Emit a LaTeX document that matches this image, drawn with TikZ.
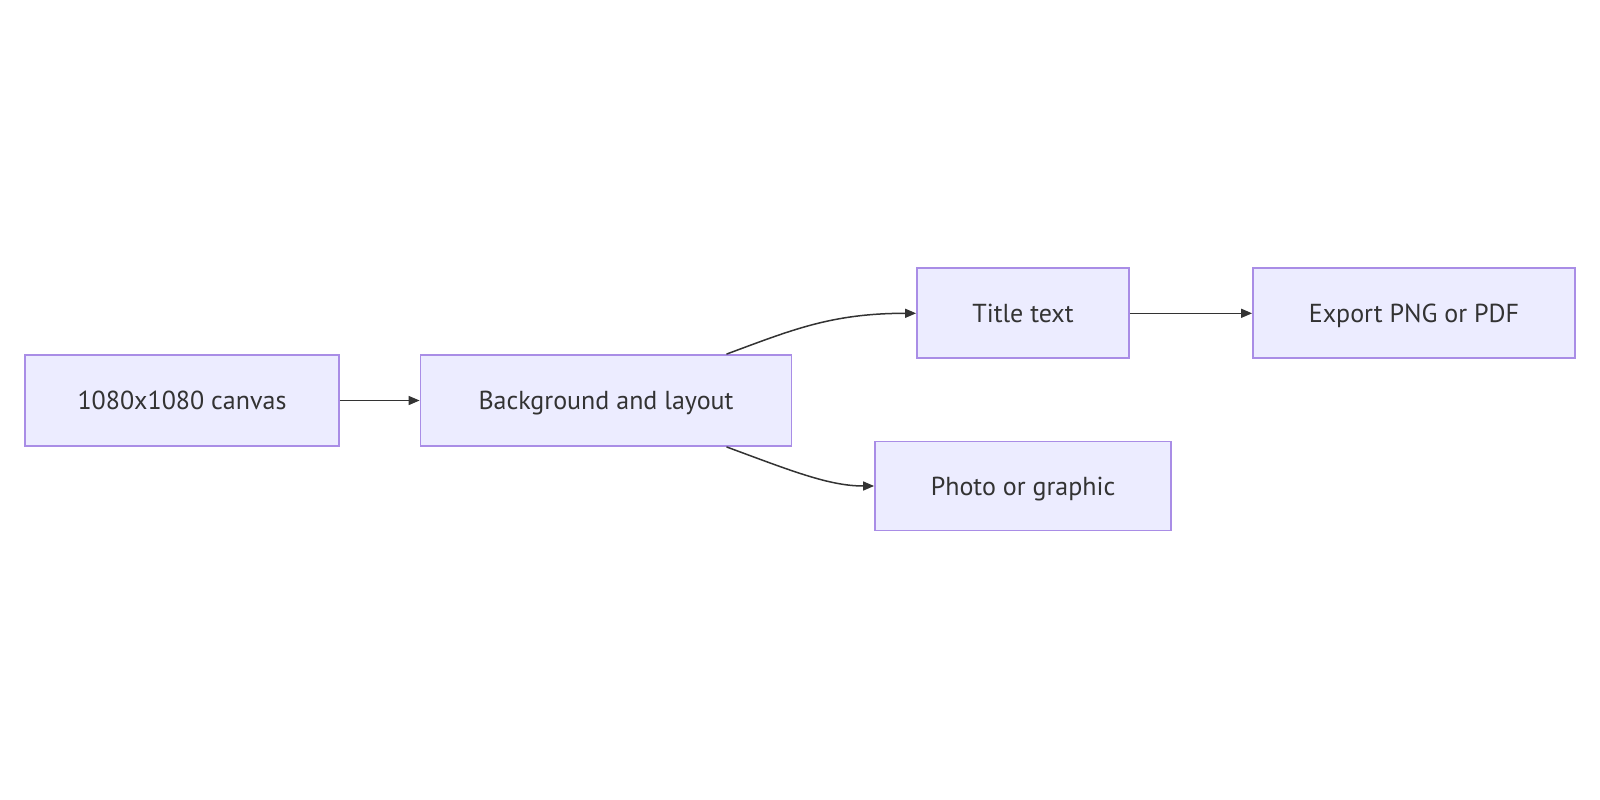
\documentclass[tikz,border=0pt]{standalone}
\usepackage{fontspec}
\setmainfont{PT Sans}
\usetikzlibrary{arrows.meta,calc}
\definecolor{boxfill}{HTML}{ECECFF}
\definecolor{boxline}{HTML}{A98DE6}
\definecolor{edgecol}{HTML}{333333}
\begin{document}
\begin{tikzpicture}[x=1pt,y=-1pt,
  box/.style={draw=boxline,fill=boxfill,line width=1.8pt,rectangle,inner sep=0pt,
    text height=18pt,text depth=0pt,
    font=\fontsize{26}{30}\selectfont,text=edgecol},
  edge/.style={draw=edgecol,line width=1.5pt,-{Triangle[length=11pt,width=9pt]}}]
\useasboundingbox (0,0) rectangle (1600,800);
\node[box,minimum width=314pt,minimum height=91pt] (canvas) at (182,400.5) {1080x1080 canvas};
\node[box,minimum width=371pt,minimum height=91pt] (bg) at (606,400.5) {Background and layout};
\node[box,minimum width=212pt,minimum height=90pt] (title) at (1023,313.3) {Title text};
\node[box,minimum width=322pt,minimum height=90pt] (export) at (1414,313.3) {Export PNG or PDF};
\node[box,minimum width=296pt,minimum height=89pt] (photo) at (1023,486) {Photo or graphic};
\coordinate (bgtop) at ($(bg.north)+(120.5,0)$);
\coordinate (bgbot) at ($(bg.south)+(120.5,0)$);
\draw[edge] (canvas.east) -- (bg.west);
\draw[edge] (title.east) -- (export.west);
\draw[edge] (bgtop) .. controls ($(bgtop)+(65,-24)$) and ($(title.west)+(-85,0)$) .. (title.west);
\draw[edge] (bgbot) .. controls ($(bgbot)+(65,24)$) and ($(photo.west)+(-45,0)$) .. (photo.west);
\end{tikzpicture}
\end{document}
